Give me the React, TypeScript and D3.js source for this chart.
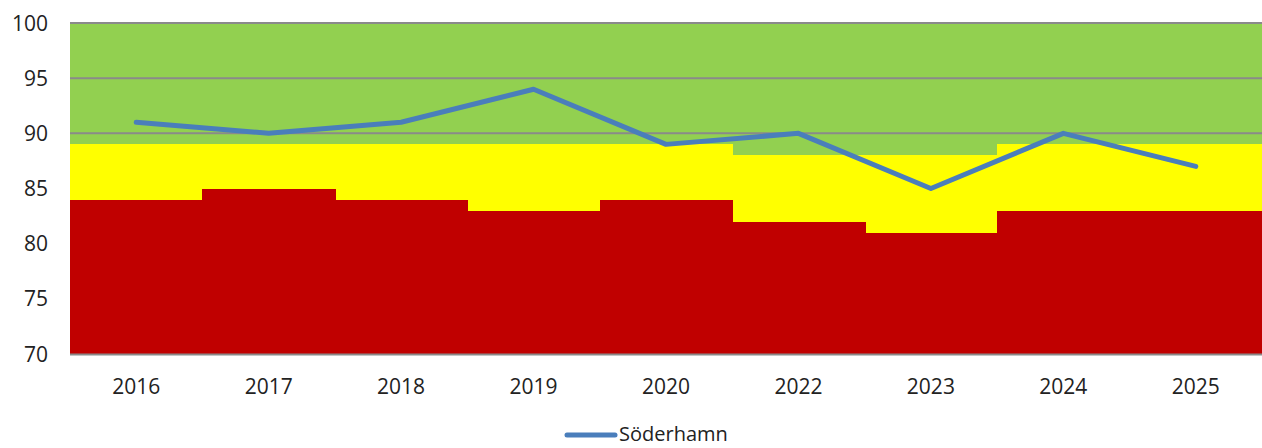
import React, { useEffect, useRef } from "react";
import * as d3 from "d3";

const years = ["2016", "2017", "2018", "2019", "2020", "2022", "2023", "2024", "2025"];
const redTop = [84, 85, 84, 83, 84, 82, 81, 83, 83];
const yellowTop = [89, 89, 89, 89, 89, 88, 88, 89, 89];
const soderhamn = [91, 90, 91, 94, 89, 90, 85, 90, 87];
const yTicks = [70, 75, 80, 85, 90, 95, 100];

const W = 1262;
const H = 448;

const App = () => {
  const ref = useRef<SVGSVGElement>(null);

  useEffect(() => {
    const svg = d3.select(ref.current);
    svg.selectAll("*").remove();

    const left = 70, right = 1262, top = 23, bottom = 354;
    const x = d3.scaleBand().domain(years).range([left, right]).padding(0);
    const y = d3.scaleLinear().domain([70, 100]).range([bottom, top]);

    // green background of the plot
    svg.append("rect")
      .attr("x", left).attr("y", top)
      .attr("width", right - left).attr("height", bottom - top)
      .attr("fill", "#92D050");

    // gridlines
    svg.append("g").selectAll("line")
      .data(yTicks.slice(1))
      .enter().append("line")
      .attr("x1", left).attr("x2", right)
      .attr("y1", d => y(d)).attr("y2", d => y(d))
      .attr("stroke", "#8a8a8a").attr("stroke-width", 2);

    // yellow band
    svg.append("g").attr("shape-rendering", "crispEdges").selectAll("rect")
      .data(years)
      .enter().append("rect")
      .attr("x", d => x(d)!)
      .attr("width", x.bandwidth() + 1)
      .attr("y", (d, i) => y(yellowTop[i]))
      .attr("height", (d, i) => y(70) - y(yellowTop[i]))
      .attr("fill", "#FFFF00");

    // red band
    svg.append("g").attr("shape-rendering", "crispEdges").selectAll("rect")
      .data(years)
      .enter().append("rect")
      .attr("x", d => x(d)!)
      .attr("width", x.bandwidth() + 1)
      .attr("y", (d, i) => y(redTop[i]))
      .attr("height", (d, i) => y(70) - y(redTop[i]))
      .attr("fill", "#C00000");

    // axis line
    svg.append("line")
      .attr("x1", left).attr("x2", right)
      .attr("y1", bottom + 0.5).attr("y2", bottom + 0.5)
      .attr("stroke", "#8a8a8a").attr("stroke-width", 2);

    // y labels
    svg.append("g").selectAll("text")
      .data(yTicks)
      .enter().append("text")
      .attr("x", 48)
      .attr("y", d => y(d))
      .attr("dy", "0.36em")
      .attr("text-anchor", "end")
      .attr("font-family", "'Open Sans', sans-serif")
      .attr("font-size", 21)
      .attr("fill", "#222")
      .text(d => d);

    // x labels
    svg.append("g").selectAll("text")
      .data(years)
      .enter().append("text")
      .attr("x", d => x(d)! + x.bandwidth() / 2)
      .attr("y", 386)
      .attr("dy", "0.36em")
      .attr("text-anchor", "middle")
      .attr("font-family", "'Open Sans', sans-serif")
      .attr("font-size", 21)
      .attr("fill", "#222")
      .text(d => d);

    // line
    const line = d3.line<number>()
      .x((d, i) => x(years[i])! + x.bandwidth() / 2)
      .y(d => y(d));
    svg.append("path")
      .datum(soderhamn)
      .attr("d", line)
      .attr("fill", "none")
      .attr("stroke", "#4A7EBB")
      .attr("stroke-width", 5)
      .attr("stroke-linecap", "round")
      .attr("stroke-linejoin", "round");

    // legend
    svg.append("line")
      .attr("x1", 567).attr("x2", 615)
      .attr("y1", 435).attr("y2", 435)
      .attr("stroke", "#4A7EBB").attr("stroke-width", 5)
      .attr("stroke-linecap", "round");
    svg.append("text")
      .attr("x", 619).attr("y", 441)
      .attr("font-family", "'Open Sans', sans-serif")
      .attr("font-size", 20)
      .attr("fill", "#222")
      .text("Söderhamn");
  }, []);

  return (
    <div style={{ position: "absolute", left: 0, top: 0 }}>
      <svg ref={ref} width={W} height={H} style={{ display: "block", background: "#fff" }} />
    </div>
  );
};

export default App;
